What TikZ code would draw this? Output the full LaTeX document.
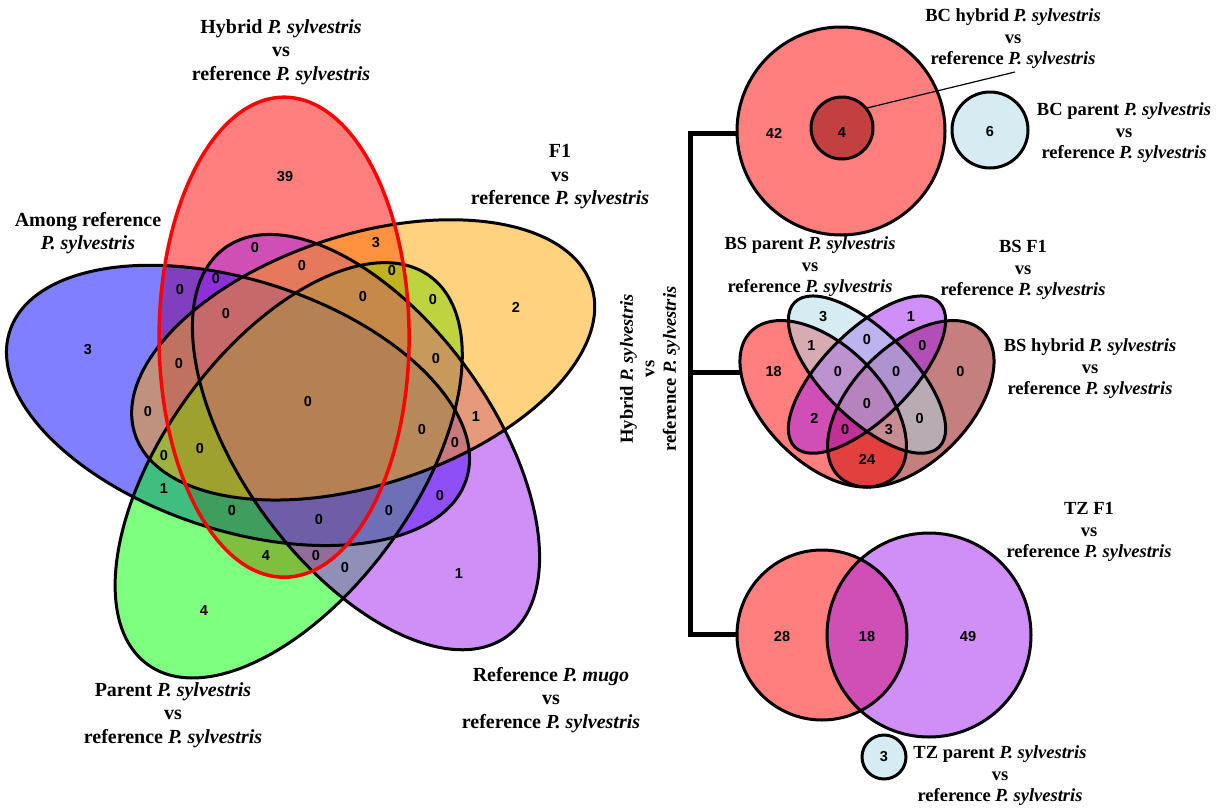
\documentclass[tikz,border=0pt]{standalone}
\usepackage{fontspec}
\setmainfont{Liberation Serif}
\newfontfamily\numfont{Liberation Sans}
\definecolor{rpurple}{HTML}{A020F0}
\definecolor{rorange}{HTML}{FFA500}
\definecolor{lblue}{HTML}{ADD8E6}
\definecolor{dred}{HTML}{8B0000}
\newcommand{\psyl}{\textit{P. sylvestris}}
\begin{document}
\begin{tikzpicture}[x=1pt,y=-1pt,
  setfill/.style={fill opacity=0.5},
  setline/.style={draw=black, line width=3pt},
  num/.style={font=\numfont\bfseries\fontsize{14.5}{15}\selectfont, inner sep=0pt},
  biglab/.style={font=\bfseries\fontsize{20}{23.5}\selectfont, align=center, inner sep=0pt},
  smalllab/.style={font=\bfseries\fontsize{18.5}{21.5}\selectfont, align=center, inner sep=0pt},
  brack/.style={line width=5pt, line join=miter},
]
\useasboundingbox (0,0) rectangle (1224,809);

% ---------- five-set Venn ----------
\fill[red, setfill, rotate around={90:(284.1,337.2)}] (284.1,337.2) ellipse [x radius=240, y radius=125];
\fill[blue, setfill, rotate around={162:(238.0,405.4)}] (238.0,405.4) ellipse [x radius=240, y radius=125];
\fill[green, setfill, rotate around={234:(288.7,470.3)}] (288.7,470.3) ellipse [x radius=240, y radius=125];
\fill[rpurple, setfill, rotate around={306:(366.0,442.1)}] (366.0,442.1) ellipse [x radius=240, y radius=125];
\fill[rorange, setfill, rotate around={18:(363.2,359.9)}] (363.2,359.9) ellipse [x radius=240, y radius=125];
\draw[setline, rotate around={162:(238.0,405.4)}] (238.0,405.4) ellipse [x radius=240, y radius=125];
\draw[setline, rotate around={234:(288.7,470.3)}] (288.7,470.3) ellipse [x radius=240, y radius=125];
\draw[setline, rotate around={306:(366.0,442.1)}] (366.0,442.1) ellipse [x radius=240, y radius=125];
\draw[setline, rotate around={18:(363.2,359.9)}] (363.2,359.9) ellipse [x radius=240, y radius=125];
\draw[draw=red, line width=3.5pt, rotate around={90:(284.1,337.2)}] (284.1,337.2) ellipse [x radius=240, y radius=125];

\node[num] (v1) at (285,177) {39};
\node[num] (v2) at (255,248) {0};
\node[num] (v3) at (376,243) {3};
\node[num] (v4) at (302,266) {0};
\node[num] (v5) at (216,279) {0};
\node[num] (v6) at (180,290) {0};
\node[num] (v7) at (363,297) {0};
\node[num] (v8) at (226,314) {0};
\node[num] (v9) at (88,350) {3};
\node[num] (v10) at (179,364) {0};
\node[num] (v11) at (392,271) {0};
\node[num] (v12) at (433,300) {0};
\node[num] (v13) at (436,359) {0};
\node[num] (v14) at (148,412) {0};
\node[num] (v15) at (308,402) {0};
\node[num] (v16) at (422,430) {0};
\node[num] (v17) at (476,417) {1};
\node[num] (v18) at (455,443) {0};
\node[num] (v19) at (200,449) {0};
\node[num] (v20) at (164,456) {0};
\node[num] (v21) at (164,489) {1};
\node[num] (v22) at (232,511) {0};
\node[num] (v23) at (319,520) {0};
\node[num] (v24) at (389,511) {0};
\node[num] (v25) at (440,496) {0};
\node[num] (v26) at (266,556) {4};
\node[num] (v27) at (316,556) {0};
\node[num] (v28) at (345,568) {0};
\node[num] (v29) at (459,574) {1};
\node[num] (v30) at (204,611) {4};
\node[num] (v31) at (516,307) {2};

\node[biglab] (lhyb) at (281,52) {Hybrid \psyl\\vs\\reference \psyl};
\node[biglab] (lf1) at (560,177) {F1\\vs\\reference \psyl};
\node[biglab] (lamong) at (88,233) {Among reference\\\psyl};
\node[biglab] (lpar) at (173,715) {Parent \psyl\\vs\\reference \psyl};
\node[biglab] (lmugo) at (551,700) {Reference \textit{P. mugo}\\vs\\reference \psyl};

% ---------- bracket ----------
\coordinate (bt) at (690,133);
\coordinate (bm) at (690,372);
\coordinate (bb) at (690,634);
\coordinate (tt) at (737,133);
\coordinate (tm) at (740,372);
\coordinate (tb) at (738,634);
\draw[brack] (tt) -- (bt) -- (bb) -- (tb);
\draw[brack] (bm) -- (tm);
\node[smalllab, rotate=90] (lside) at (650,369) {Hybrid \psyl\\vs\\reference \psyl};

% ---------- BC ----------
\fill[red, setfill] (841,131) circle [radius=104];
\fill[dred, setfill] (842,128) circle [radius=31];
\fill[lblue, setfill] (990,130) circle [radius=38];
\draw[setline] (841,131) circle [radius=104];
\draw[setline] (842,128) circle [radius=31];
\draw[setline] (990,130) circle [radius=38];
\node[num] (bc1) at (774,133) {42};
\node[num] (bc2) at (842,133) {4};
\node[num] (bc3) at (990,132) {6};
\node[smalllab] (lbch) at (1013,39) {BC hybrid \psyl\\vs\\reference \psyl};
\node[smalllab] (lbcp) at (1124,133) {BC parent \psyl\\vs\\reference \psyl};
\coordinate (ldA) at (867,108);
\coordinate (ldB) at (1015,72);
\draw[line width=1.2pt] (ldA) -- (ldB);

% ---------- BS ----------
\fill[dred, setfill, rotate around={45:(910.8,403.8)}] (910.8,403.8) ellipse [x radius=102.2, y radius=58.4];
\fill[red, setfill, rotate around={-45:(823.2,403.8)}] (823.2,403.8) ellipse [x radius=102.2, y radius=58.4];
\fill[rpurple, setfill, rotate around={45:(867,374.6)}] (867,374.6) ellipse [x radius=102.2, y radius=43.8];
\fill[lblue, setfill, rotate around={-45:(867,374.6)}] (867,374.6) ellipse [x radius=102.2, y radius=43.8];
\draw[setline, rotate around={45:(910.8,403.8)}] (910.8,403.8) ellipse [x radius=102.2, y radius=58.4];
\draw[setline, rotate around={-45:(823.2,403.8)}] (823.2,403.8) ellipse [x radius=102.2, y radius=58.4];
\draw[setline, rotate around={45:(867,374.6)}] (867,374.6) ellipse [x radius=102.2, y radius=43.8];
\draw[setline, rotate around={-45:(867,374.6)}] (867,374.6) ellipse [x radius=102.2, y radius=43.8];
\node[num] (bs1) at (773.6,371.6) {18};
\node[num] (bs2) at (823.2,316.2) {3};
\node[num] (bs3) at (910.8,316.2) {1};
\node[num] (bs4) at (867,339.5) {0};
\node[num] (bs5) at (811.5,345.4) {1};
\node[num] (bs6) at (922.5,345.4) {0};
\node[num] (bs7) at (837.8,371.6) {0};
\node[num] (bs8) at (896.2,371.6) {0};
\node[num] (bs9) at (960.4,371.6) {0};
\node[num] (bs10) at (867,403.8) {0};
\node[num] (bs11) at (814.4,418.4) {2};
\node[num] (bs12) at (919.6,418.4) {0};
\node[num] (bs13) at (845.1,430) {0};
\node[num] (bs14) at (888.9,430) {3};
\node[num] (bs15) at (867,459) {24};
\node[smalllab] (lbsp) at (810,267) {BS parent \psyl\\vs\\reference \psyl};
\node[smalllab] (lbsf) at (1023,270) {BS F1\\vs\\reference \psyl};
\node[smalllab] (lbsh) at (1090,369) {BS hybrid \psyl\\vs\\reference \psyl};

% ---------- TZ ----------
\fill[red, setfill] (822,635) circle [radius=85];
\fill[rpurple, setfill] (929,635) circle [radius=102];
\fill[lblue, setfill] (884,757) circle [radius=22];
\draw[setline] (822,635) circle [radius=85];
\draw[setline] (929,635) circle [radius=102];
\draw[setline] (884,757) circle [radius=22];
\node[num] (tz1) at (782,636) {28};
\node[num] (tz2) at (867,636) {18};
\node[num] (tz3) at (968,636) {49};
\node[num] (tz4) at (884,757) {3};
\node[smalllab] (ltzf) at (1089,532) {TZ F1\\vs\\reference \psyl};
\node[smalllab] (ltzp) at (1000,776) {TZ parent \psyl\\vs\\reference \psyl};
\end{tikzpicture}
\end{document}
